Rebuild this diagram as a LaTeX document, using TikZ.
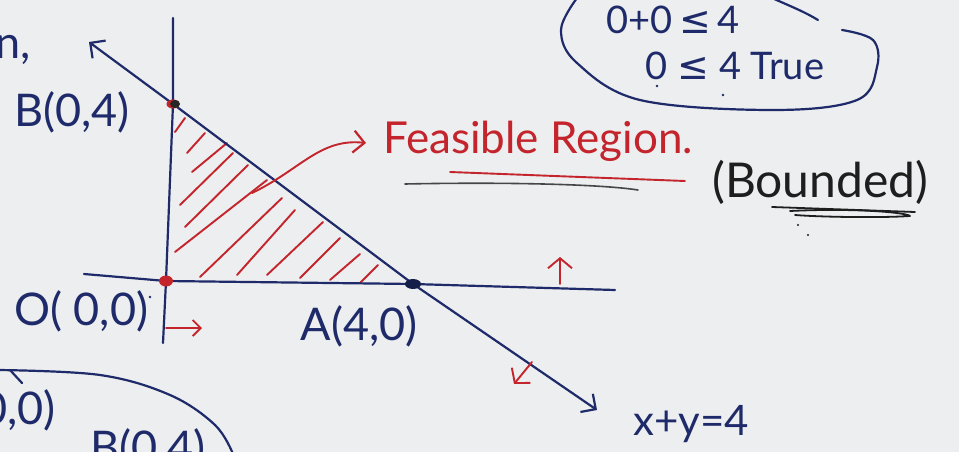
\documentclass[tikz,border=0pt]{standalone}
\usepackage{fontspec}
\setmainfont{Lato}
\newfontfamily\symf{DejaVu Sans}
\usetikzlibrary{arrows.meta}
\definecolor{paper}{RGB}{236,238,239}
\definecolor{blueink}{RGB}{30,42,105}
\definecolor{redink}{RGB}{196,36,44}
\definecolor{blackink}{RGB}{30,30,30}
\definecolor{grayink}{RGB}{70,70,72}
\tikzset{
  ink/.style={line width=2.2pt, line cap=round, line join=round},
  blueline/.style={ink, draw=blueink},
  redline/.style={ink, draw=redink, line width=1.9pt},
  barb/.style={-{Straight Barb[length=11pt,width=22pt,line width=2.2pt]}},
  bluetxt/.style={text=blueink, inner sep=0pt, font=\fontsize{45}{48}\selectfont},
  redtxt/.style={text=redink, inner sep=0pt, font=\fontsize{44}{48}\selectfont},
  blacktxt/.style={text=blackink, inner sep=0pt, font=\fontsize{48}{52}\selectfont},
}
\newcommand{\myle}{{\symf ≤}}
\begin{document}
\begin{tikzpicture}[x=1pt,y=-1pt]
\useasboundingbox (0,0) rectangle (959,452);
\fill[paper] (0,0) rectangle (959,452);
\clip (0,0) rectangle (959,452);
% key points
\coordinate (B) at (173,104);
\coordinate (Bk) at (175,104);
\coordinate (O) at (166,281);
\coordinate (A) at (413,284);
\coordinate (yt) at (173,18);
\coordinate (yb) at (163,343);
\coordinate (xl) at (84,274);
\coordinate (xr) at (615,290);
\coordinate (lt) at (89,42);
\coordinate (lb) at (597,410);
% hatching
\foreach \a/\b/\c/\d in {175/132/185/118, 187/153/205/133, 192/172/227/143,
  180/205/233/153, 185/227/248/165, 175/252/267/180, 200/277/282/198,
  237/275/295/210, 267/275/323/222, 300/278/340/238, 330/280/360/254,
  360/283/378/265}
  \draw[redline] (\a,\b) -- (\c,\d);
% axes
\draw[blueline] (yt) -- (B) -- (O) -- (yb);
\draw[blueline] (xl) -- (O) -- (A) -- (xr);
% line x+y=4
\draw[blueline, {Straight Barb[length=11pt,width=22pt,line width=2.2pt]}-{Straight Barb[length=11pt,width=22pt,line width=2.2pt]}]
  (lt) -- (B) -- (A) -- (lb);
% points
\fill[redink] (B) ellipse (6.5pt and 4.5pt);
\fill[black!85] (Bk) ellipse (5pt and 4pt);
\fill[redink] (O) ellipse (7pt and 5.5pt);
\fill[blueink!70!black] (A) ellipse (8pt and 5pt);
% red arrows
\coordinate (fa0) at (252,193);
\coordinate (fa1) at (366,143);
\draw[redline, barb] (fa0) .. controls (300,170) and (320,138) .. (fa1);
\coordinate (ra0) at (166,328);
\coordinate (ra1) at (202,328);
\draw[redline, -{Straight Barb[length=8pt,width=16pt,line width=1.9pt]}] (ra0) -- (ra1);
\coordinate (ua0) at (560,284);
\coordinate (ua1) at (560,257);
\draw[redline, -{Straight Barb[length=10pt,width=24pt,line width=1.9pt]}] (ua0) -- (ua1);
\coordinate (da0) at (532,362);
\coordinate (da1) at (514,384);
\draw[redline, -{Straight Barb[length=10pt,width=24pt,line width=1.9pt]}] (da0) -- (da1);
% labels
\node[bluetxt] (Blab) at (72,112) {B(0,4)};
\node[bluetxt, anchor=west] (Olab) at (14,311) {O( 0,0)};
\fill[blueink] (150,297) circle (1.3pt);
\node[bluetxt] (Alab) at (359,326) {A(4,0)};
\node[bluetxt, font=\fontsize{42}{46}\selectfont] (eq) at (691,424) {x+y=4};
\node[bluetxt, anchor=east] (nlab) at (31,50) {n,};
% feasible region
\node[redtxt, anchor=west] (fr) at (383,141) {Feasible Region.};
\draw[redline] (450,172) -- (685,181);
\draw[ink, draw=grayink, line width=1.6pt] (405,184) .. controls (500,182) and (600,184) .. (638,190);
% bounded
\node[blacktxt, anchor=west] (bd) at (712,182) {(Bounded)};
\draw[ink, draw=blackink, line width=1.8pt] (772,207) -- (915,212);
\draw[ink, draw=blackink, line width=1.8pt] (790,211) .. controls (850,208) and (905,212) .. (910,216) .. controls (880,218) and (820,217) .. (795,215);
\fill[blackink] (798,225) circle (1.2pt);
\fill[blackink] (808,235) circle (1.2pt);
% top right check
\draw[blueline] plot[smooth, tension=0.6] coordinates {(577,-2) (561,30) (577,63) (640,100) (773,110) (857,100) (877,67) (873,40) (842,30)};
\draw[blueline] (772,-2) .. controls (790,6) and (805,12) .. (818,20);
\node[bluetxt, font=\fontsize{38}{42}\selectfont] (t1) at (673,20) {0+0\,\myle\,4};
\node[bluetxt, font=\fontsize{38}{42}\selectfont] (t2) at (735,66) {0 \myle\ 4 True};
\fill[blueink] (657,86) circle (1.3pt);
\fill[blueink] (723,95) circle (1.3pt);
% bottom left fragment
\draw[blueline] plot[smooth, tension=0.6] coordinates {(-2,370) (100,375) (170,395) (215,425) (233,454)};
\draw[blueline] (10,370) -- (22,383);
\node[bluetxt, anchor=east] (b1) at (56,410) {(0,0)};
\node[bluetxt, anchor=north west] (b2) at (90,428) {B(0,4)};
\end{tikzpicture}
\end{document}
